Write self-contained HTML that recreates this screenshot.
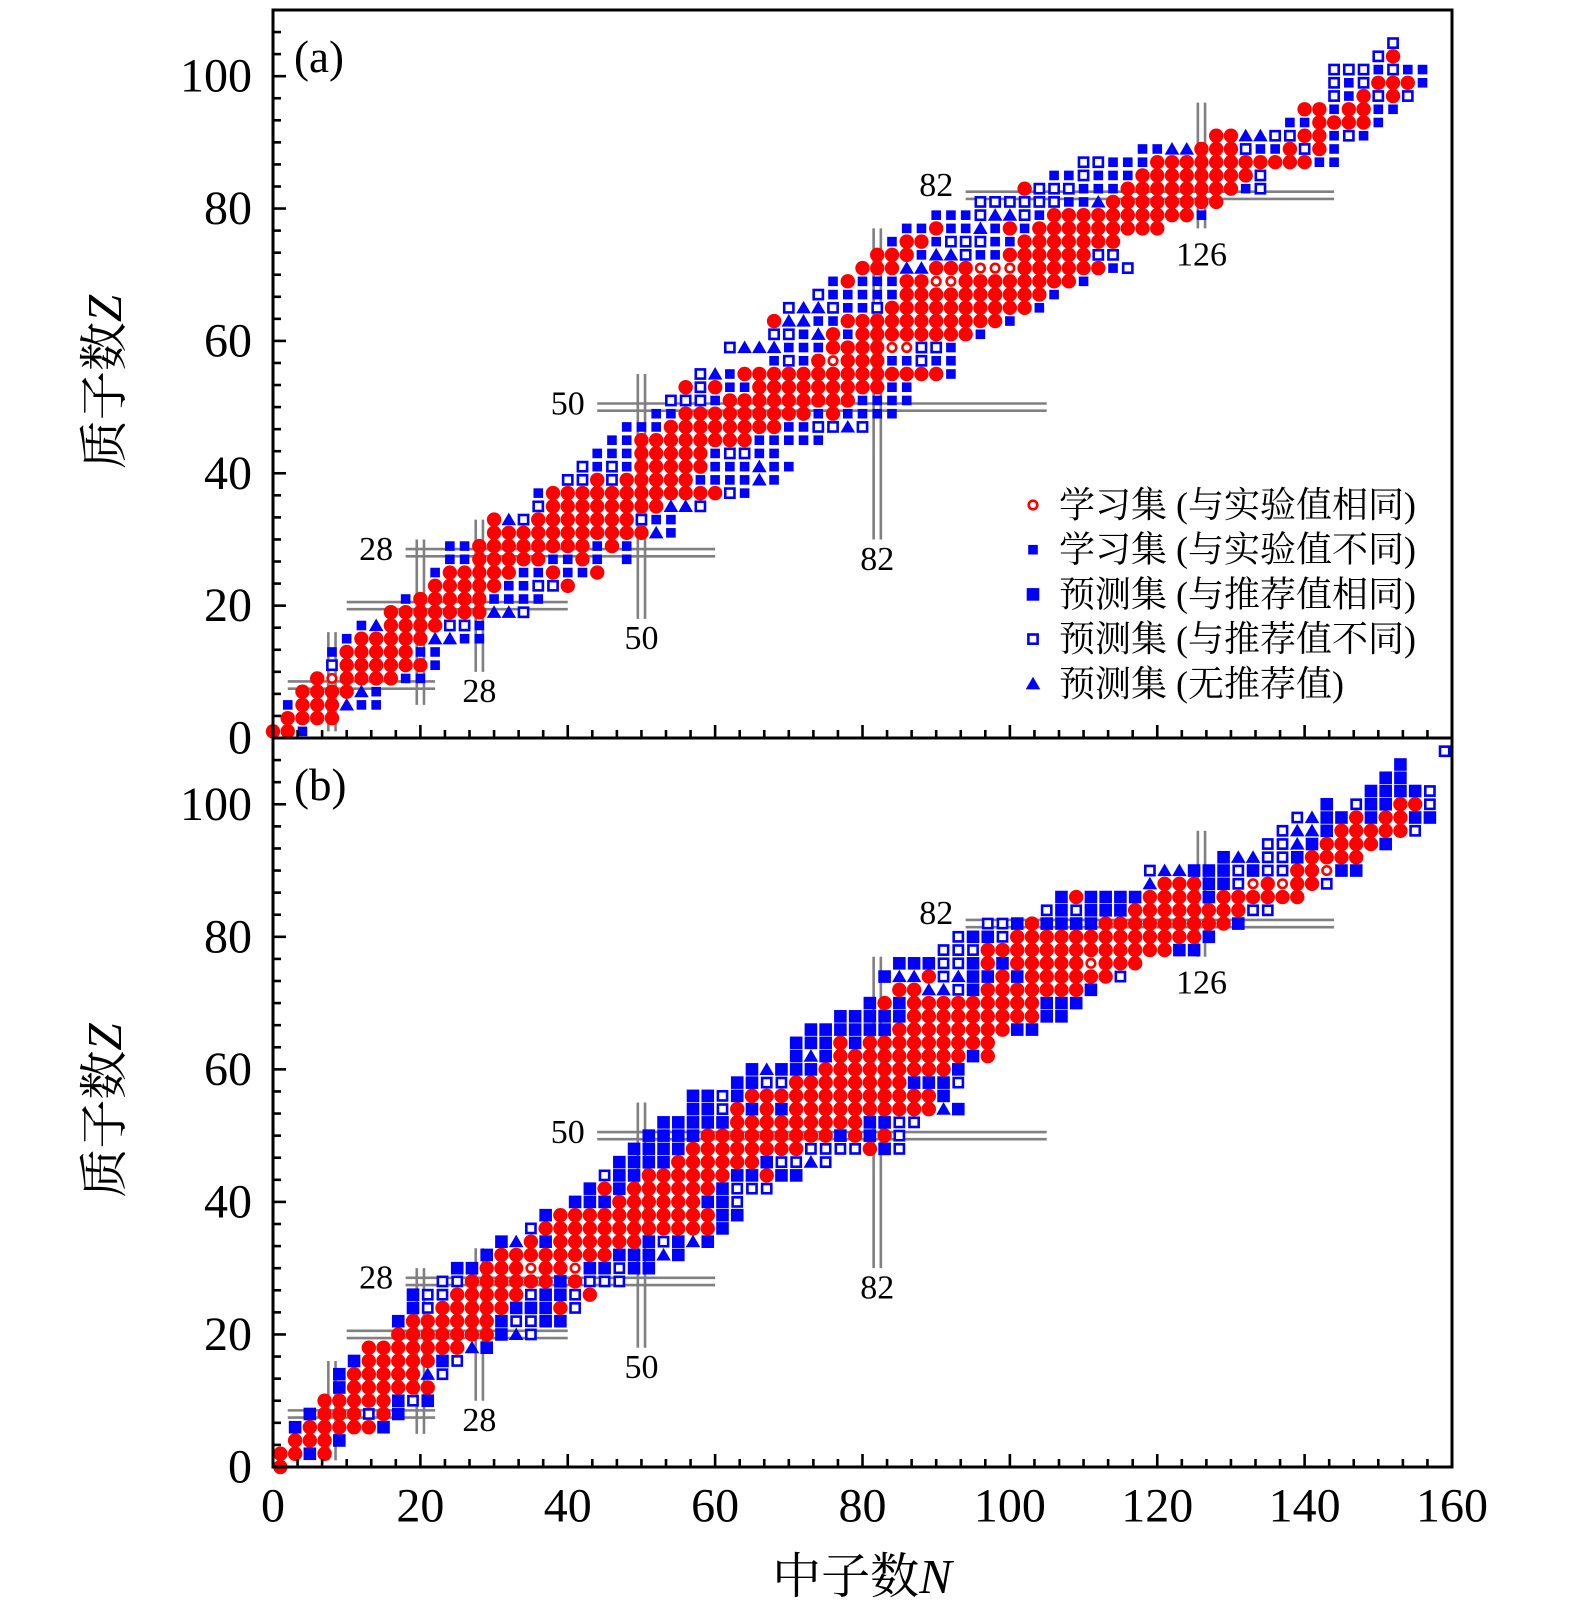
<!DOCTYPE html>
<html><head><meta charset="utf-8"><title>Nuclide chart</title>
<style>
html,body{margin:0;padding:0;background:#fff;}
svg{display:block;}
text{font-family:"Liberation Serif","Noto Serif CJK SC",serif;fill:#000;}
</style></head>
<body>
<svg id="chart" width="1575" height="1614" viewBox="0 0 1575 1614" xmlns="http://www.w3.org/2000/svg">
<g id="layer-lines"></g>
<g id="layer-marks"></g>
<g id="layer-axes"></g>
<g id="legend"></g>
</svg>
<script>
// ---- Panel (a) data: row Z, first N, per-nucleus category codes (N step 2) ----
const rowZA=[1,3,5,7,9,11,13,15,17,19,21,23,25,27,29,31,33,35,37,39,41,43,45,47,49,51,53,55,57,59,61,63,65,67,69,71,73,75,77,79,81,83,85,87,89,91,93,95,97,99,101,103,105];
const rowStartA=[0,2,2,4,6,8,8,10,12,16,18,22,22,24,24,30,30,36,36,40,42,44,46,48,52,54,56,58,68,62,68,68,70,74,76,80,82,84,86,90,96,102,106,110,118,128,138,140,144,144,144,150,152];
const rowCodesA=["RRs","RRRR","sRRRtss","RRRRts","RrRRRRss","oRRRRRRs","sRRRRRss","sRRRRRttss","stRRRRoos","RRRRRRRtto","sRRRRRssss","RRRRRssooR","sRRRRRssRssR","ssRRRRRssRs.s","ssRRRRRRRRsRs","RRRRRRRRRRRts","RtoRRRRRRRoss","oRRRRRRRRtto","sRRRRRRRRRRRRos","ooRoRRRRRssssts","ososRRRRRssstss","sssRRRRRsooss","ssRRRRRRRRsssss","sssRRRRRRRRssooto","ssRRRRRRRRRsRssss","ooosRRRRRRRRRssss","RoRssRRRRRRRRRss","otsRRRRRRRRRRRRRRs","sosRrRRRssoss","otttsssRRRRrroos","oostRsRRRRRRRRs","RttssRRRRRRRRRRRs","ottossoRRRRRRRRRRs","osssssRRRRRRRRRRs","sRsssRRrrRRRRRRRRs","RRRttRRRrrrRRRRRRso","RRRsttossRRRRRRoo","sRRsooossRRRRRRR","ssRsstsRsRRRRRRRRR","sssottosRRRRRRRRRRs","oooooosstRRRRRRRR","RooosssRRRRRRRRso","ssosssRRRRRRRRo","oosssRRRRRRRRRRRss","ssttRRRossRoRs","RRttooRRsos","ssRRRRs","RRsRRss","osRoRo","osoRRRs","ooososs","oR","o"];
// ---- Panel (b) data ----
const rowZB=[0,2,4,6,8,10,12,14,16,18,20,22,24,26,28,30,32,34,36,38,40,42,44,46,48,50,52,54,56,58,60,62,64,66,68,70,72,74,76,78,80,82,84,86,88,90,92,94,96,98,100,102,104,106,108];
const rowStartB=[1,1,3,3,5,7,9,9,11,13,17,17,19,19,23,25,29,31,35,37,41,43,45,47,49,51,53,57,57,63,65,71,71,73,77,81,85,83,85,91,93,97,105,107,119,119,129,135,137,139,143,149,151,153,159];
const rowCodesB=["R","RRSR","RRRS","SRRRRRS","SRRRoRS","RRRRRSoS","SRRRRRR","SRRRRRto","SRRRRRSo","RRRRRRRtS","RRRRRRRSto","SRRRRRRSooSS","SoRRRRRSSSRo","SooRRRRRoSSoR","ooRRRRRRSRooo","SSRRRrRRrSSoSS","SRRRRRRRRSSStS","StRSRRRRRRSoStS","oRRRRRRRRRRRRS","SRRRRRRRRRRRSS","SSSRRRRRRSSo","SRSRRRRRRSooo","oSSRRRRRRSSRSS","SSSSRRRRRRSooto","SSSSRRRRRRRRooooRSo","SSSSRRRRRRRRRSRSRo","SSSSSRRRRRRRRRSSoo","SSoRSRSRRRRRRRRRRtS","SSoSRRRRRRRRRRRRRS","SSooRRRRRRRRSSSo","StSSSRRRRRRRRRS","StSRRRRRRRRRSR","SSSRSRRRRRRRRR","SSSSSSRRRRRRRRSS","SSSSSRRRRRRRRRSS","SRSRRRRRRRRRSSS","RRttoSRRRRRRRS","SttRotSSRSRRRRRRo","SSSooSRSRRRRRrRRR","oooRRRRRRRRRRRRRSS","oSSoRRRRRRRRRRRRRS","ooSRSSSSRRRRRRRRRS","oSoSSSRRRRRRRRoo","SRSSSSRRRRSRRRRRR","tRRRSSorRrRRo","ottSSSoSooRRrSS","SttooSRRRR","ootSRRRRS","ottSRRRRRo","otSSRSRRSS","S.oSSRRo","SSSSo","SS","S","o"];
// ---- magic numbers ----
const magicN=[8,20,28,50,82,126];
const magicVFrom=[1,5,10,18,30,77];
const magicVTo=[16,30,33,55,77,96];
const magicZ=[8,20,28,50,82];
const magicHFrom=[2,10,18,44,94];
const magicHTo=[22,40,60,105,144];
const magicLabelText=["28","28","50","50","82","82","126"];
const magicLabelN=[14,28,40,50,82,90,126];
const magicLabelZ=[28.5,7,50.5,15,27,83.5,73];
const yTicks=[0,20,40,60,80,100];
const xTicks=[0,20,40,60,80,100,120,140,160];
const legendLabels=["学习集 (与实验值相同)","学习集 (与实验值不同)","预测集 (与推荐值相同)","预测集 (与推荐值不同)","预测集 (无推荐值)"];
const legendCodes=["r","s","S","o","t"];

const NS="http://www.w3.org/2000/svg";
const X0=273,X1=1452;
const xN=n=>X0+n*(X1-X0)/160;
const panels=[
  {name:'a',top:10,bottom:738,Z:rowZA,S:rowStartA,C:rowCodesA,label:'(a)'},
  {name:'b',top:738,bottom:1467,Z:rowZB,S:rowStartB,C:rowCodesB,label:'(b)'}
];
panels.forEach(p=>{p.y=z=>p.bottom-z*(p.bottom-p.top)/110;});

function el(tag,attrs,parent){const e=document.createElementNS(NS,tag);for(const k in attrs)e.setAttribute(k,attrs[k]);parent.appendChild(e);return e;}
const gL=document.getElementById('layer-lines');
const gM=document.getElementById('layer-marks');
const gA=document.getElementById('layer-axes');
const gLeg=document.getElementById('legend');

function marker(code,cx,cy,parent){
  let e;
  if(code==='R'){e=el('circle',{cx:cx,cy:cy,r:7.2,fill:'#ff0000'},parent);
    }
  else if(code==='r'){e=el('circle',{cx:cx,cy:cy,r:4.3,fill:'#fff',stroke:'#ff0000','stroke-width':2.6},parent);
    }
  else if(code==='s'){e=el('rect',{x:cx-4.8,y:cy-4.8,width:9.6,height:9.6,fill:'#0000ff'},parent);
    }
  else if(code==='S'){e=el('rect',{x:cx-6.3,y:cy-6.3,width:12.6,height:12.6,fill:'#0000ff'},parent);
    }
  else if(code==='o'){e=el('rect',{x:cx-4.6,y:cy-4.6,width:9.2,height:9.2,fill:'#fff',stroke:'#0000ff','stroke-width':2.6},parent);
    }
  else if(code==='t'){e=el('polygon',{points:(cx)+','+(cy-7)+' '+(cx-7.3)+','+(cy+5.6)+' '+(cx+7.3)+','+(cy+5.6),fill:'#0000ff'},parent);
    }

  return e;
}

panels.forEach(p=>{
  const gap=3.6,gray='#808080',sw=2.6;
  magicN.forEach((n,i)=>{
    [-gap,gap].forEach(d=>{
      const l=el('line',{x1:xN(n)+d,x2:xN(n)+d,y1:p.y(magicVFrom[i]),y2:p.y(magicVTo[i]),stroke:gray,'stroke-width':sw},gL);
      
      
    });
  });
  magicZ.forEach((z,i)=>{
    [-gap,gap].forEach(d=>{
      const l=el('line',{x1:xN(magicHFrom[i]),x2:xN(magicHTo[i]),y1:p.y(z)+d,y2:p.y(z)+d,stroke:gray,'stroke-width':sw},gL);
      
      
    });
  });
  magicLabelText.forEach((t,i)=>{
    const tx=el('text',{x:xN(magicLabelN[i]),y:p.y(magicLabelZ[i]),'font-size':34,'text-anchor':'middle','dominant-baseline':'central'},gL);
    tx.textContent=t;
    
    
  });
  p.Z.forEach((z,i)=>{
    const codes=p.C[i];
    for(let k=0;k<codes.length;k++){
      const n=p.S[i]+2*k;
      marker(codes[k],xN(n),p.y(z),gM);
    }
  });
  const fr=el('rect',{x:X0,y:p.top,width:X1-X0,height:p.bottom-p.top,fill:'none',stroke:'#000','stroke-width':3},gA);
  
  
  for(let k=0;k<=33;k++){
    const v=k*10/3;const major=(k%6===0);
    const yy=p.y(v);
    const t=el('line',{x1:X0,x2:X0+(major?13:8),y1:yy,y2:yy,stroke:'#000','stroke-width':2.6},gA);
    
    
  }
  yTicks.forEach(v=>{
    const tx=el('text',{x:252,y:p.y(v),'font-size':48,'text-anchor':'end','dominant-baseline':'central'},gA);
    tx.textContent=String(v);
    
    
  });
  for(let k=0;k<=48;k++){
    const v=k*10/3;const major=(k%6===0);
    const xx=xN(v);
    const t=el('line',{x1:xx,x2:xx,y1:p.bottom,y2:p.bottom-(major?13:8),stroke:'#000','stroke-width':2.6},gA);
    
    
  }
  const pl=el('text',{x:294,y:p.top+62,'font-size':45},gA);
  pl.textContent=p.label;
  
  
  const cy=(p.top+p.bottom)/2+8;
  const yt=el('text',{x:0,y:0,'font-size':49,'text-anchor':'middle','dominant-baseline':'central',transform:'translate(104,'+cy+') rotate(-90)'},gA);
  
  
  const s1=el('tspan',{},yt);s1.textContent='质子数';
  const s2=el('tspan',{'font-style':'italic'},yt);s2.textContent='Z';
});

xTicks.forEach(v=>{
  const tx=el('text',{x:xN(v),y:1506,'font-size':48,'text-anchor':'middle','dominant-baseline':'central'},gA);
  tx.textContent=String(v);
  
  
});
const xt=el('text',{x:862,y:1576,'font-size':49,'text-anchor':'middle','dominant-baseline':'central'},gA);


const xs1=el('tspan',{},xt);xs1.textContent='中子数';
const xs2=el('tspan',{'font-style':'italic'},xt);xs2.textContent='N';

legendLabels.forEach((lab,i)=>{
  const yy=505+i*44.7;
  const g=el('g',{},gLeg);
  
  
  marker(legendCodes[i],1033,yy,g);
  const tx=el('text',{x:1059,y:yy,'font-size':36,'dominant-baseline':'central'},g);
  tx.textContent=lab;
  
  
});
</script>
</body></html>
